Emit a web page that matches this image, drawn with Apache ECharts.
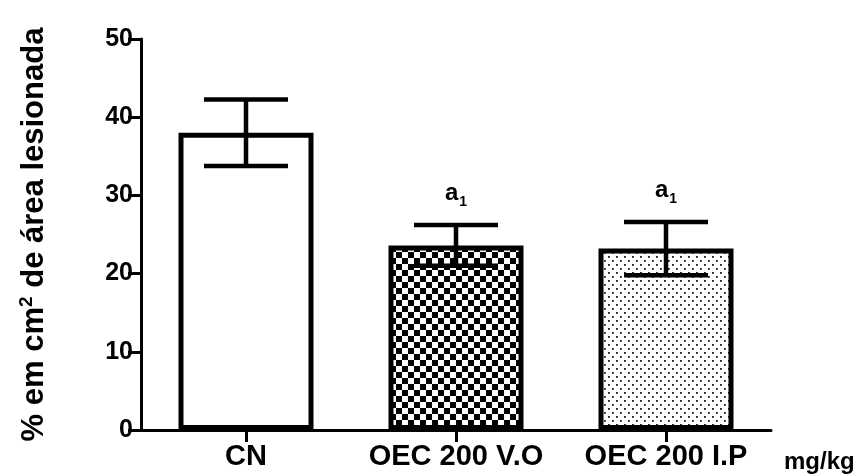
<!DOCTYPE html>
<html>
<head>
<meta charset="utf-8">
<script src="https://cdn.jsdelivr.net/npm/echarts@6/dist/echarts.min.js"></script>
<style>
html,body{margin:0;padding:0;background:#fff;}
#chart{width:865px;height:474px;}
</style>
</head>
<body>
<div id="chart"></div>
<script>
// ---- data ----
const categories = ['CN', 'OEC 200 V.O', 'OEC 200 I.P'];
const means = [38.0, 23.6, 23.2];
const errors = [4.25, 2.6, 3.4];
const sigLabels = ['', 'a', 'a'];
const sigSubs = ['', '1', '1'];
const yTitle = '% em cm{sup|2} de área lesionada';
const unitLabel = 'mg/kg';

// ---- fill patterns ----
function checker(size) {
  const c = document.createElement('canvas');
  c.width = c.height = size * 2;
  const g = c.getContext('2d');
  g.fillStyle = '#fff'; g.fillRect(0, 0, size * 2, size * 2);
  g.fillStyle = '#000';
  g.fillRect(0, 0, size, size);
  g.fillRect(size, size, size, size);
  return c;
}
function dots(step) {
  const c = document.createElement('canvas');
  c.width = c.height = step * 2;
  const g = c.getContext('2d');
  g.fillStyle = '#fff'; g.fillRect(0, 0, step * 2, step * 2);
  g.fillStyle = '#1a1a1a';
  g.fillRect(0, 0, 1.8, 1.8);
  g.fillRect(step, step, 1.8, 1.8);
  return c;
}
const fills = ['#ffffff', { image: checker(6), repeat: 'repeat' }, { image: dots(4), repeat: 'repeat' }];

const FONT = 'Liberation Sans, Arial, sans-serif';
const chart = echarts.init(document.getElementById('chart'), null, { renderer: 'canvas' });

chart.setOption({
  animation: false,
  backgroundColor: '#ffffff',
  grid: { left: 141, right: 94, top: 39, bottom: 44 },
  xAxis: {
    type: 'category',
    data: categories,
    name: unitLabel,
    nameLocation: 'end',
    nameGap: 13,
    nameTextStyle: { color: '#000', fontWeight: 'bold', fontSize: 24, fontFamily: FONT, verticalAlign: 'top', padding: [20, 0, 0, 0] },
    axisLine: { show: true, lineStyle: { color: '#000', width: 3 } },
    axisTick: { show: true, alignWithLabel: true, length: 12, lineStyle: { color: '#000', width: 3 } },
    axisLabel: { color: '#000', fontWeight: 'bold', fontSize: 29, fontFamily: FONT, margin: 12, interval: 0, hideOverlap: false },
    splitLine: { show: false }
  },
  yAxis: {
    type: 'value',
    min: 0, max: 50, interval: 10,
    name: yTitle,
    nameLocation: 'middle',
    nameGap: 89,
    nameTextStyle: {
      color: '#000', fontWeight: 'bold', fontSize: 31, fontFamily: FONT,
      rich: { sup: { fontSize: 19, fontWeight: 'bold', fontFamily: FONT, color: '#000', verticalAlign: 'top', padding: [0, 0, 16, 0] } }
    },
    axisLine: { show: true, lineStyle: { color: '#000', width: 3 } },
    axisTick: { show: true, length: 13, lineStyle: { color: '#000', width: 3 } },
    axisLabel: { color: '#000', fontWeight: 'bold', fontSize: 25, fontFamily: FONT, margin: 8 },
    splitLine: { show: false }
  },
  series: [
    {
      type: 'bar',
      barWidth: 135,
      data: means.map((v, i) => ({ value: v, itemStyle: { color: fills[i] } })),
      itemStyle: { borderColor: '#000', borderWidth: 5 },
      z: 2
    },
    {
      type: 'custom',
      z: 5,
      data: means.map((v, i) => [i, v, errors[i]]),
      renderItem: function (params, api) {
        const i = api.value(0), m = api.value(1), e = api.value(2);
        const top = api.coord([i, m + e]);
        const bot = api.coord([i, m - e]);
        const half = api.size([1, 0])[0] * 0.2;
        const st = { stroke: '#000', lineWidth: 4.5, fill: null };
        const children = [
          { type: 'line', shape: { x1: top[0], y1: top[1], x2: bot[0], y2: bot[1] }, style: st },
          { type: 'line', shape: { x1: top[0] - half, y1: top[1], x2: top[0] + half, y2: top[1] }, style: st },
          { type: 'line', shape: { x1: bot[0] - half, y1: bot[1], x2: bot[0] + half, y2: bot[1] }, style: st }
        ];
        if (sigLabels[params.dataIndex]) {
          children.push({
            type: 'text',
            style: {
              x: top[0], y: top[1] - 20,
              text: '{a|' + sigLabels[params.dataIndex] + '}{s|' + sigSubs[params.dataIndex] + '}',
              align: 'center', verticalAlign: 'bottom',
              rich: {
                a: { fontSize: 24, fontWeight: 'bold', fontFamily: FONT, fill: '#000', color: '#000' },
                s: { fontSize: 14, fontWeight: 'bold', fontFamily: FONT, fill: '#000', color: '#000', verticalAlign: 'bottom', padding: [0, 0, -4, 1] }
              }
            }
          });
        }
        return { type: 'group', children: children };
      }
    }
  ]
});
</script>
</body>
</html>
